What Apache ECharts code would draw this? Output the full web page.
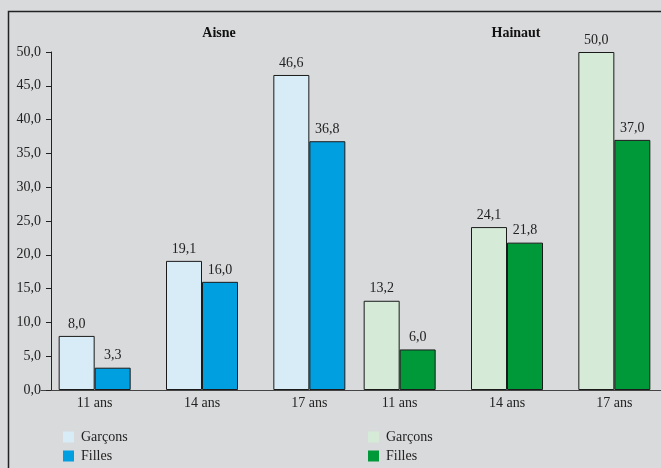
<!DOCTYPE html>
<html>
<head>
<meta charset="utf-8">
<script src="https://cdn.jsdelivr.net/npm/echarts@6/dist/echarts.min.js"></script>
<style>
  html, body { margin: 0; padding: 0; background: #d9dadc; }
  #chart { width: 661px; height: 468px; }
</style>
</head>
<body>
<div id="chart"></div>
<script>
// Age groups shown under each department panel
const ageGroups = ['11 ans', '14 ans', '17 ans'];
const yTicks = { min: 0, max: 50, step: 5 };

// Aisne
const aisneGarcons = [8.0, 19.1, 46.6];
const aisneFilles = [3.3, 16.0, 36.8];

// Hainaut
const hainautGarcons = [13.2, 24.1, 50.0];
const hainautFilles = [6.0, 21.8, 37.0];

const panelTitles = ['Aisne', 'Hainaut'];
const seriesLabels = ['Garçons', 'Filles'];

const colors = {
  aisneG: '#d7ecf6', aisneF: '#009fdf',
  hainautG: '#d5ebd8', hainautF: '#00993a'
};

const FONT = 'Liberation Serif';
const fmt = v => v.toFixed(1).replace('.', ',');

const chart = echarts.init(document.getElementById('chart'), null, { renderer: 'canvas' });

function barSeries(name, data, color, axisIdx) {
  return {
    type: 'bar',
    name: name,
    data: data,
    xAxisIndex: axisIdx,
    yAxisIndex: axisIdx,
    barWidth: 36,
    barGap: '0%',
    itemStyle: { color: color, borderColor: '#1a1a1a', borderWidth: 1 },
    label: {
      show: true,
      position: 'top',
      distance: 5,
      formatter: p => fmt(p.value),
      fontFamily: FONT,
      fontSize: 14,
      color: '#222'
    },
    emphasis: { disabled: true },
    animation: false
  };
}

function xAxisFor(gridIdx) {
  return {
    type: 'category',
    gridIndex: gridIdx,
    data: ageGroups,
    axisTick: { show: false },
    axisLine: { lineStyle: { color: '#444', width: 1 } },
    axisLabel: { fontFamily: FONT, fontSize: 14, color: '#222', margin: 6 }
  };
}

function legendFor(left, names) {
  return {
    orient: 'vertical',
    left: left,
    top: 430,
    padding: 0,
    itemWidth: 11,
    itemHeight: 11,
    itemGap: 5,
    icon: 'rect',
    selectedMode: false,
    data: names,
    formatter: n => n.split('|')[0],
    itemStyle: { borderWidth: 0 },
    textStyle: { fontFamily: FONT, fontSize: 14, lineHeight: 14, color: '#222', padding: [0, 0, 0, 2] }
  };
}

const option = {
  backgroundColor: '#d9dadc',
  animation: false,
  grid: [
    { left: 41, top: 52, width: 322, bottom: 78, outerBoundsMode: 'none' },
    { left: 346, top: 52, width: 322, bottom: 78, outerBoundsMode: 'none' }
  ],
  xAxis: [xAxisFor(0), xAxisFor(1)],
  yAxis: [
    {
      type: 'value', gridIndex: 0,
      min: yTicks.min, max: yTicks.max, interval: yTicks.step,
      offset: -10,
      splitLine: { show: false },
      axisLine: { show: true, lineStyle: { color: '#222', width: 1 } },
      axisTick: { show: true, length: 5, lineStyle: { color: '#222' } },
      axisLabel: { formatter: v => fmt(v), fontFamily: FONT, fontSize: 14, color: '#222', margin: 10 }
    },
    {
      type: 'value', gridIndex: 1,
      min: yTicks.min, max: yTicks.max, interval: yTicks.step,
      show: false,
      splitLine: { show: false }
    }
  ],
  legend: [
    legendFor(63, [seriesLabels[0] + '|A', seriesLabels[1] + '|A']),
    legendFor(368, [seriesLabels[0] + '|H', seriesLabels[1] + '|H'])
  ],
  series: [
    barSeries(seriesLabels[0] + '|A', aisneGarcons, colors.aisneG, 0),
    barSeries(seriesLabels[1] + '|A', aisneFilles, colors.aisneF, 0),
    barSeries(seriesLabels[0] + '|H', hainautGarcons, colors.hainautG, 1),
    barSeries(seriesLabels[1] + '|H', hainautFilles, colors.hainautF, 1)
  ],
  graphic: [
    {
      type: 'rect',
      shape: { x: 8.5, y: 11.5, width: 800, height: 600 },
      style: { fill: 'none', stroke: '#222', lineWidth: 1.5 },
      silent: true
    },
    {
      type: 'text', x: 219, y: 33,
      style: {
        text: panelTitles[0], fontFamily: FONT, fontSize: 14, fontWeight: 'bold',
        fill: '#111', align: 'center', verticalAlign: 'middle'
      }
    },
    {
      type: 'text', x: 516, y: 33,
      style: {
        text: panelTitles[1], fontFamily: FONT, fontSize: 14, fontWeight: 'bold',
        fill: '#111', align: 'center', verticalAlign: 'middle'
      }
    }
  ]
};

chart.setOption(option);
</script>
</body>
</html>
